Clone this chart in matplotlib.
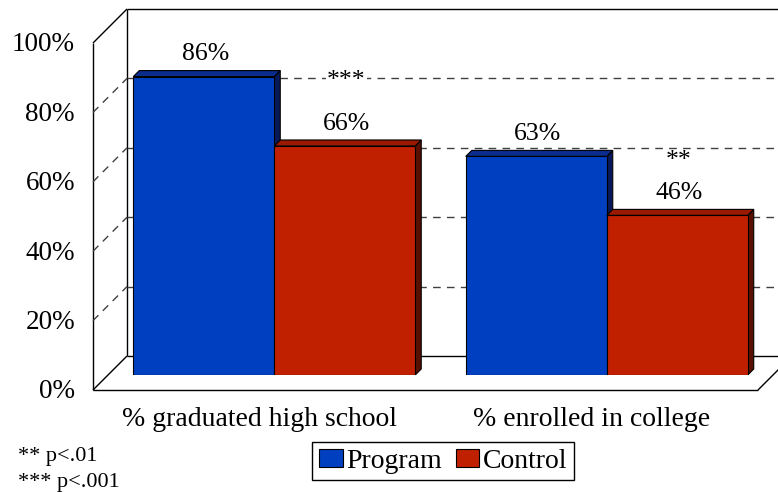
import matplotlib
matplotlib.use('Agg')
import matplotlib.pyplot as plt
import matplotlib.patches as patches

plt.rcParams['font.family'] = ['Liberation Serif', 'DejaVu Serif']

categories = ['% graduated high school', '% enrolled in college']
series_names = ['Program', 'Control']
program = [86, 63]
control = [66, 46]
stars = ['***', '**']
y_ticks = [0, 20, 40, 60, 80, 100]
footnotes = ['** p<.01', '*** p<.001']

# front / top / side shades for each series
shades = {
    'Program': ('#0040c0', '#0a2c8c', '#08195a'),
    'Control': ('#c02000', '#9a1a00', '#5a1000'),
}

W, H = 778, 492
fig = plt.figure(figsize=(W / 100, H / 100), dpi=100)

# the axes box is the plane of the bar fronts (pixel edges, y from the top)
ax_l, ax_r, ax_b, ax_t = 108, 773, 375, 28
ax = fig.add_axes([ax_l / W, 1 - ax_b / H, (ax_r - ax_l) / W, (ax_b - ax_t) / H])
ax.set_xlim(-0.5, 1.5)
ax.set_ylim(0, 100)
ax.axis('off')

sx = (ax_r - ax_l) / 2.0   # pixels per category
sy = (ax_b - ax_t) / 100.0  # pixels per percent
FRONT, BACK, BAR_D = -15, 19, 6
x0, x1 = -0.5, 1.5


def shift(x, y, d):
    # move a point d pixels back in depth (up and to the right)
    return x + d / sx, y + d / sy


def seg(p, q, **kw):
    kw.setdefault('color', 'black')
    kw.setdefault('lw', 1.0)
    ax.plot([p[0], q[0]], [p[1], q[1]], clip_on=False, solid_capstyle='butt', **kw)


# walls and floor
wall = patches.Polygon([shift(x0, 0, FRONT), shift(x0, 100, FRONT), shift(x0, 100, BACK),
                        shift(x1, 100, BACK), shift(x1, 0, BACK), shift(x1, 0, FRONT)],
                       closed=True, fc='white', ec='none', clip_on=False, zorder=0)
ax.add_patch(wall)
seg(shift(x0, 0, FRONT), shift(x0, 100, FRONT))
seg(shift(x0, 100, FRONT), shift(x0, 100, BACK))
seg(shift(x0, 0, FRONT), shift(x0, 0, BACK))
seg(shift(x0, 0, BACK), shift(x0, 100, BACK))
seg(shift(x0, 100, BACK), shift(x1, 100, BACK))
seg(shift(x0, 0, BACK), shift(x1, 0, BACK))
seg(shift(x0, 0, FRONT), shift(x1, 0, FRONT))
seg(shift(x1, 0, FRONT), shift(x1, 0, BACK))

for v in y_ticks[1:-1]:
    seg(shift(x0, v, FRONT), shift(x0, v, BACK), color='#404040', ls=(0, (5.5, 4.5)))
    seg(shift(x0, v, BACK), shift(x1, v, BACK), color='#404040', ls=(0, (5.5, 4.5)))

for v in y_ticks:
    tx, ty = shift(x0, v, FRONT)
    ax.text(tx - 18 / sx, ty - 2 / sy, f'{v}%', ha='right', va='center', fontsize=19.5)

# bars with a shallow 3D top and side
w = 0.424
z = 3
for i in range(len(categories)):
    for name, vals, off in [('Program', program, -w / 2), ('Control', control, w / 2)]:
        front_c, top_c, side_c = shades[name]
        h = vals[i]
        xl, xr = i + off - w / 2, i + off + w / 2
        side = patches.Polygon([(xr, 0), (xr, h), shift(xr, h, BAR_D), shift(xr, 0, BAR_D)],
                               closed=True, fc=side_c, ec='black', lw=0.8, zorder=z)
        top = patches.Polygon([(xl, h), (xr, h), shift(xr, h, BAR_D), shift(xl, h, BAR_D)],
                              closed=True, fc=top_c, ec='black', lw=0.8, zorder=z)
        ax.add_patch(side)
        ax.add_patch(top)
        bars = ax.bar([i + off], [h], width=w, color=front_c, edgecolor='black', lw=0.8)
        bars[0].set_zorder(z + 1)
        ax.annotate(f'{h}%', (i + off, h), xytext=(1, 16), textcoords='offset points',
                    ha='center', va='center', fontsize=18.5, zorder=10)
        z += 2

for i, s in enumerate(stars):
    ax.annotate(s, (i + w / 2, program[i]), xytext=(1, -3.2), textcoords='offset points',
                ha='center', va='center', fontsize=18.5, zorder=10,
                bbox=dict(fc='white', ec='none', pad=1) if i == 0 else None)

for i, c in enumerate(categories):
    tx, ty = shift(i, 0, FRONT)
    ax.text(tx, ty - 30 / sy, c, ha='center', va='center', fontsize=20)

fig.text(18 / W, 1 - 456 / H, footnotes[0], fontsize=16, va='center')
fig.text(18 / W, 1 - 483 / H, footnotes[1], fontsize=16, va='center')

handles = [patches.Patch(fc=shades[n][0], ec='black', lw=0.8, label=n) for n in series_names]
leg = fig.legend(handles=handles, loc='center', bbox_to_anchor=(443 / W, 1 - 461 / H), ncol=2,
                 fontsize=20, frameon=True, fancybox=False, edgecolor='black', framealpha=1,
                 borderaxespad=0, handlelength=0.85, handleheight=0.6, handletextpad=0.12,
                 columnspacing=0.5, borderpad=0.25)
leg.get_frame().set_linewidth(1.0)

fig.savefig('out.png', dpi=100)
